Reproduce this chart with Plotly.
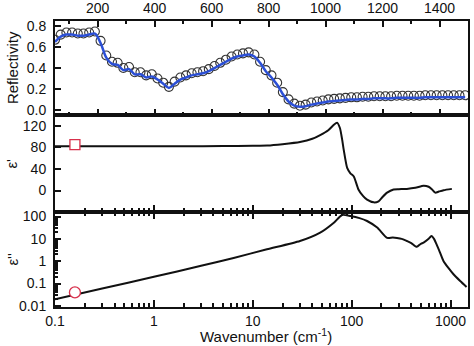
import plotly.graph_objects as go

# Reflectivity spectrum (linear wavenumber axis, top panel)
refl_wn = [50, 70, 90, 110, 130, 150, 170, 190, 210, 230,
           250, 270, 290, 310, 330, 350, 370, 390, 410, 430,
           450, 470, 490, 510, 530, 550, 570, 590, 610, 630,
           650, 670, 690, 710, 730, 750, 770, 790, 810, 830,
           850, 870, 890, 910, 930, 950, 970, 990, 1010, 1030,
           1050, 1070, 1090, 1110, 1130, 1150, 1170, 1190, 1210, 1230,
           1250, 1270, 1290, 1310, 1330, 1350, 1370, 1390, 1410, 1430,
           1450, 1470, 1490]
refl_meas = [0.67, 0.72, 0.74, 0.74, 0.73, 0.73, 0.74, 0.75, 0.66, 0.52,
             0.46, 0.45, 0.40, 0.41, 0.36, 0.36, 0.33, 0.34, 0.30, 0.26,
             0.22, 0.27, 0.31, 0.33, 0.35, 0.36, 0.37, 0.39, 0.42, 0.45,
             0.48, 0.51, 0.53, 0.54, 0.55, 0.53, 0.46, 0.38, 0.33, 0.26,
             0.17, 0.10, 0.06, 0.04, 0.05, 0.07, 0.08, 0.09, 0.10, 0.105,
             0.11, 0.115, 0.12, 0.12, 0.125, 0.125, 0.13, 0.13, 0.13, 0.13,
             0.135, 0.135, 0.135, 0.135, 0.135, 0.14, 0.14, 0.14, 0.14, 0.14,
             0.14, 0.14, 0.14]
refl_fit = [0.65, 0.70, 0.72, 0.72, 0.71, 0.71, 0.72, 0.73, 0.64, 0.50,
            0.44, 0.43, 0.38, 0.39, 0.34, 0.34, 0.31, 0.32, 0.29, 0.25,
            0.21, 0.25, 0.29, 0.31, 0.33, 0.34, 0.35, 0.37, 0.40, 0.43,
            0.46, 0.49, 0.51, 0.52, 0.53, 0.51, 0.45, 0.37, 0.31, 0.24,
            0.15, 0.08, 0.04, 0.03, 0.035, 0.05, 0.06, 0.07, 0.08, 0.085,
            0.09, 0.095, 0.10, 0.10, 0.105, 0.105, 0.11, 0.11, 0.11, 0.11,
            0.115, 0.115, 0.115, 0.115, 0.115, 0.12, 0.12, 0.12, 0.12, 0.12,
            0.12, 0.12, 0.12]

# Real part of the dielectric function (log wavenumber axis)
eps1_wn = [0.1, 0.5, 2, 5, 10, 14, 20, 30, 40, 48, 58, 66, 71, 76, 80, 83,
           90, 97, 105, 117, 130, 143, 167, 187, 205, 228, 265, 300, 361,
           440, 533, 600, 650, 700, 760, 849, 1030]
eps1 = [82, 82, 82, 82.5, 83, 83.5, 86, 90, 96, 103, 112, 122, 126, 116, 95, 76,
        42, 32, 26, 2, -10, -17, -22, -20, -12, -4, 2, 2.5, 3,
        5, 9, 7, 2, -4, -2, 0.5, 3]

# Imaginary part of the dielectric function (log-log)
eps2_wn = [0.1, 0.3, 1, 3, 6.4, 13.9, 30, 48, 66, 80, 97, 120, 143, 181, 228,
           260, 287, 320, 361, 400, 455, 500, 533, 600, 640, 680, 720, 780,
           849, 950, 1070, 1250, 1450]
eps2 = [0.02, 0.06, 0.2, 0.62, 1.4, 3.4, 8, 19, 53, 117, 105, 85, 63, 32, 11,
        11.5, 11, 10, 8, 6.5, 4.4, 6, 6.8, 10, 13.5, 10, 5.8, 2.5,
        1.0, 0.5, 0.26, 0.13, 0.07]

# Static values marked at the low-frequency end
static_wn = [0.159]
static_eps1 = [85]
static_eps2 = [0.04]

FONT = "Arial, Liberation Sans, sans-serif"
INK = "#111111"
RED = "#d8304c"

fig = go.Figure()

fig.add_trace(go.Scatter(x=refl_wn, y=refl_meas, mode="markers", xaxis="x", yaxis="y",
                         marker=dict(symbol="circle-open", size=9, color="#333333",
                                     line=dict(width=1.1)),
                         showlegend=False))
fig.add_trace(go.Scatter(x=refl_wn, y=refl_fit, mode="lines", xaxis="x", yaxis="y",
                         line=dict(color="#2b4fd6", width=2.5, shape="spline"),
                         showlegend=False))

fig.add_trace(go.Scatter(x=eps1_wn, y=eps1, mode="lines", xaxis="x2", yaxis="y2",
                         line=dict(color=INK, width=2, shape="spline", smoothing=0.6),
                         showlegend=False))
fig.add_trace(go.Scatter(x=static_wn, y=static_eps1, mode="markers", xaxis="x2", yaxis="y2",
                         marker=dict(symbol="square", size=10, color="white",
                                     line=dict(color=RED, width=1.3)),
                         showlegend=False))

fig.add_trace(go.Scatter(x=eps2_wn, y=eps2, mode="lines", xaxis="x3", yaxis="y3",
                         line=dict(color=INK, width=2, shape="spline", smoothing=0.6),
                         showlegend=False))
fig.add_trace(go.Scatter(x=static_wn, y=static_eps2, mode="markers", xaxis="x3", yaxis="y3",
                         marker=dict(symbol="circle", size=11, color="white",
                                     line=dict(color=RED, width=1.3)),
                         showlegend=False))

axis_common = dict(showline=True, linecolor=INK, linewidth=2, ticks="inside",
                   tickcolor=INK, tickwidth=1.5, showgrid=False, zeroline=False,
                   automargin=False,
                   tickfont=dict(family=FONT, size=14, color=INK))

log_range = [-1, 3.176]
dom_bot = [0.0, 0.332]
dom_mid = [0.332, 0.671]
dom_top = [0.671, 1.0]

fig.update_layout(
    width=474, height=346,
    margin=dict(l=55, r=6, t=21, b=39),
    paper_bgcolor="white", plot_bgcolor="white",
    xaxis=dict(axis_common, anchor="y", side="top", range=[50, 1500],
               tickvals=[200, 400, 600, 800, 1000, 1200, 1400], ticklen=6,
               mirror="allticks", ticklabelstandoff=0,
               minor=dict(ticks="inside", dtick=100, tick0=0, ticklen=3,
                          tickwidth=1.5, tickcolor=INK)),
    xaxis4=dict(axis_common, overlaying="x2", anchor="y2", side="top", range=[50, 1500],
                tickvals=[200, 400, 600, 800, 1000, 1200, 1400], ticklen=6,
                showticklabels=False,
                minor=dict(ticks="inside", dtick=100, tick0=0, ticklen=3,
                           tickwidth=1.5, tickcolor=INK)),
    xaxis2=dict(axis_common, anchor="y2", type="log", range=log_range,
                tickvals=[0.1, 1, 10, 100, 1000], ticklen=7, showticklabels=False,
                mirror=True,
                minor=dict(ticks="inside", ticklen=4, tickwidth=1.5, tickcolor=INK,
                           dtick="D1")),
    xaxis3=dict(axis_common, anchor="y3", type="log", range=log_range,
                tickvals=[0.1, 1, 10, 100, 1000],
                ticktext=["0.1", "1", "10", "100", "1000"], ticklen=7,
                mirror="allticks", ticklabelstandoff=0,
                minor=dict(ticks="inside", ticklen=4, tickwidth=1.5, tickcolor=INK,
                           dtick="D1")),
    yaxis=dict(axis_common, domain=dom_top, anchor="x", range=[-0.05, 0.85],
               tickvals=[0.0, 0.2, 0.4, 0.6, 0.8], tickformat=".1f", ticklen=6,
               mirror=True, ticklabelstandoff=4),
    yaxis2=dict(axis_common, domain=dom_mid, anchor="x2", range=[-40, 140],
                tickvals=[0, 40, 80, 120], ticklen=6, mirror=True, ticklabelstandoff=4),
    yaxis3=dict(axis_common, domain=dom_bot, anchor="x3", type="log", range=[-2.05, 2.2],
                tickvals=[0.01, 0.1, 1, 10, 100],
                ticktext=["0.01", "0.1", "1", "10", "100"], ticklen=6,
                mirror=True, ticklabelstandoff=4,
                minor=dict(ticks="inside", ticklen=3, tickwidth=1.5, tickcolor=INK,
                           dtick="D1")),
)

# Panel labels on the left
for text, ymid in [("Reflectivity", (dom_top[0] + dom_top[1]) / 2),
                   ("ε'", (dom_mid[0] + dom_mid[1]) / 2),
                   ("ε''", (dom_bot[0] + dom_bot[1]) / 2)]:
    fig.add_annotation(text=text, xref="paper", yref="paper", x=-0.104, y=ymid,
                       xanchor="center", yanchor="middle", textangle=-90,
                       showarrow=False, font=dict(family=FONT, size=15, color=INK))

# Shared x-axis title below the bottom panel
fig.add_annotation(text="Wavenumber (cm<sup>-1</sup>)", xref="paper", yref="paper",
                   x=0.51, y=-0.098, xanchor="center", yanchor="middle",
                   showarrow=False, font=dict(family=FONT, size=15, color=INK))

fig.write_html("out.html")
